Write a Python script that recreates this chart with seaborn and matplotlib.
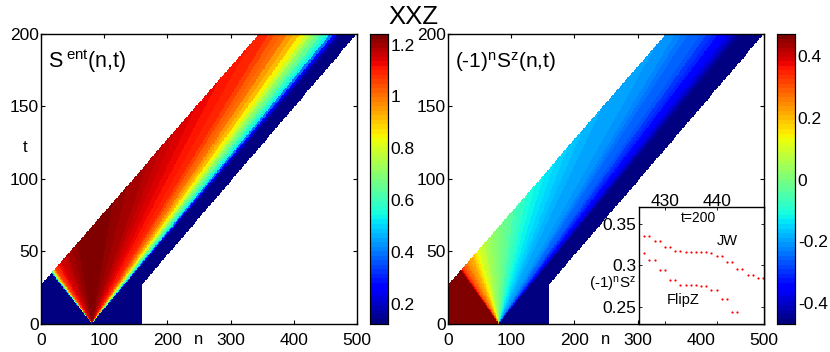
import numpy as np
import matplotlib
matplotlib.use("Agg")
import matplotlib.pyplot as plt
import seaborn as sns

FIG_W, FIG_H = 830, 352

# ray speed (n-80)/t -> value, one value per colour band
ray_edges = [-1.86, -1.82, -1.78, -1.74, -1.70, -1.65, -1.60, -1.55, -1.50,
             -1.40, -1.30, -1.20, -1.10, -1.00, -0.90, -0.80, -0.70, -0.60, -0.50, -0.40, -0.30, -0.20, -0.10, 0.00,
             0.10, 0.20, 0.30, 0.40, 0.50, 0.60, 0.70, 0.80, 0.90, 1.00, 1.10, 1.20, 1.30, 1.40,
             1.45, 1.50, 1.55, 1.60, 1.65, 1.70, 1.74, 1.78, 1.82, 1.86, 1.89, 1.92, 1.95, 1.98]
sent_bands = [0.13, 0.28, 0.45, 0.62, 0.76, 0.88, 0.96, 1.01, 1.05,
              1.08, 1.10, 1.12, 1.14, 1.16, 1.17, 1.18, 1.19, 1.20, 1.21, 1.22, 1.23, 1.235, 1.24, 1.24,
              1.24, 1.24, 1.235, 1.23, 1.22, 1.21, 1.20, 1.19, 1.18, 1.165, 1.15, 1.13, 1.115, 1.09,
              1.06, 1.03, 1.00, 0.96, 0.91, 0.84, 0.77, 0.71, 0.65, 0.59, 0.53, 0.40, 0.27, 0.17, 0.13]
sz_bands = [0.47, 0.47, 0.47, 0.47, 0.47, 0.46, 0.44, 0.38, 0.35,
            0.32, 0.29, 0.27, 0.25, 0.23, 0.21, 0.19, 0.15, 0.12, 0.10, 0.08, 0.06, 0.04, 0.025, 0.01,
            0.00, -0.015, -0.035, -0.06, -0.085, -0.105, -0.125, -0.14, -0.155, -0.17, -0.18, -0.19, -0.20, -0.21,
            -0.225, -0.24, -0.25, -0.26, -0.275, -0.29, -0.31, -0.335, -0.36, -0.39, -0.42, -0.445, -0.46, -0.465, -0.465]

# computed window in the (n,t) plane
window_t = [27, 200]
window_left = [0, 345]
window_right = [160, 500]

n_ticks = [0, 100, 200, 300, 400, 500]
t_ticks = [0, 50, 100, 150, 200]
sent_ticks = [0.2, 0.4, 0.6, 0.8, 1.0, 1.2]
sent_tick_labels = ["0.2", "0.4", "0.6", "0.8", "1", "1.2"]
sz_ticks = [-0.4, -0.2, 0.0, 0.2, 0.4]
sz_tick_labels = ["-0.4", "-0.2", "0", "0.2", "0.4"]

# inset, t=200
jw_n = list(range(426, 450))
jw_sz = [0.3347, 0.3347, 0.3290, 0.3290, 0.3220, 0.3220, 0.3177, 0.3177, 0.3165, 0.3165, 0.3165, 0.3165,
         0.3157, 0.3153, 0.3117, 0.3115, 0.3040, 0.3040, 0.2956, 0.2956, 0.2887, 0.2887, 0.2847, 0.2847]
flip_n = list(range(426, 445))
flip_sz = [0.3149, 0.3065, 0.3065, 0.2940, 0.2940, 0.2827, 0.2827, 0.2766, 0.2766, 0.2762,
           0.2758, 0.2750, 0.2750, 0.2702, 0.2702, 0.2589, 0.2589, 0.2431, 0.2431]


def px_axes(fig, left, top, right, bottom):
    return fig.add_axes([left / FIG_W, 1 - bottom / FIG_H, (right - left) / FIG_W, (bottom - top) / FIG_H])


def build_field(bands):
    nn, tt = np.meshgrid(np.arange(500) + 0.5, np.arange(200) + 0.5)
    field = np.array(bands)[np.digitize((nn - 80) / tt, ray_edges)]
    lo = np.interp(tt, window_t, window_left)
    hi = np.interp(tt, window_t, window_right)
    mask = (nn < lo) | (nn > hi)
    return field, mask


def draw_panel(fig, x0, x1, cx0, cx1, bands, vmin, vmax, ticks, tick_labels):
    ax = px_axes(fig, x0, 34, x1, 323.5)
    cax = px_axes(fig, cx0, 34, cx1, 323.5)
    field, mask = build_field(bands)
    sns.heatmap(field, mask=mask, cmap=plt.get_cmap("jet", 64), vmin=vmin, vmax=vmax,
                ax=ax, cbar_ax=cax, xticklabels=False, yticklabels=False)
    ax.invert_yaxis()
    ax.set_xticks(n_ticks)
    ax.set_xticklabels(n_ticks, rotation=0)
    ax.set_yticks(t_ticks)
    ax.set_yticklabels(t_ticks, rotation=0)
    ax.tick_params(direction="in", length=3, width=0.8, top=True, right=True, bottom=True, left=True,
                   labelsize=12.5)
    ax.tick_params(axis="x", pad=6.5)
    ax.tick_params(axis="y", pad=2)
    for spine in ax.spines.values():
        spine.set_visible(True)
        spine.set_linewidth(1.0)
        spine.set_color("black")

    cax.set_yticks(ticks)
    cax.set_yticklabels(tick_labels)
    cax.tick_params(direction="in", length=3, width=0.8, left=True, right=True, labelsize=12.5, pad=2)
    for spine in cax.spines.values():
        spine.set_visible(True)
        spine.set_linewidth(0.8)
        spine.set_color("black")
    return ax


sns.set_theme(style="white")
plt.rcParams["font.family"] = ["Liberation Sans", "DejaVu Sans"]
plt.rcParams["mathtext.fontset"] = "custom"
plt.rcParams["mathtext.rm"] = "Liberation Sans"
plt.rcParams["mathtext.it"] = "Liberation Sans"
plt.rcParams["xtick.color"] = "black"
plt.rcParams["ytick.color"] = "black"
plt.rcParams["text.color"] = "black"

fig = plt.figure(figsize=(FIG_W / 100, FIG_H / 100), dpi=100)

left = draw_panel(fig, 41.3, 356.7, 370, 388, sent_bands, 0.123, 1.241, sent_ticks, sent_tick_labels)
right = draw_panel(fig, 448.3, 763.7, 776.7, 795, sz_bands, -0.465, 0.47, sz_ticks, sz_tick_labels)

fig.text(413 / FIG_W, 1 - 24 / FIG_H, "XXZ", fontsize=18.5, ha="center", va="baseline")
fig.text(25.5 / FIG_W, 1 - 148 / FIG_H, "t", fontsize=12, ha="center", va="center")
fig.text(199 / FIG_W, 1 - 340 / FIG_H, "n", fontsize=12, ha="center", va="center")
fig.text(606 / FIG_W, 1 - 340 / FIG_H, "n", fontsize=12, ha="center", va="center")
fig.text(48 / FIG_W, 1 - 68 / FIG_H, r"S$^{\;\mathrm{ent}}$(n,t)", fontsize=15.5, ha="left", va="baseline")
fig.text(455 / FIG_W, 1 - 68 / FIG_H, r"(-1)$^{\mathrm{n}}$S$^{\mathrm{z}}$(n,t)", fontsize=15, ha="left", va="baseline")

inset = px_axes(fig, 639, 207.3, 763.7, 323.5)
inset.set_facecolor("white")
sns.scatterplot(x=jw_n, y=jw_sz, ax=inset, color="red", s=2.5, marker="o", linewidth=0, clip_on=False)
sns.scatterplot(x=flip_n, y=flip_sz, ax=inset, color="red", s=2.5, marker="o", linewidth=0, clip_on=False)
inset.set_xlim(425, 449.1)
inset.set_ylim(0.2295, 0.37)
inset.set_xticks([430, 440])
inset.set_yticks([0.25, 0.3, 0.35])
inset.set_yticklabels(["0.25", "0.3", "0.35"])
inset.xaxis.tick_top()
inset.tick_params(direction="in", length=2, width=0.6, top=True, left=True, right=True, bottom=True,
                  labelsize=12.5)
inset.tick_params(axis="x", pad=-1)
inset.tick_params(axis="y", pad=2)
for spine in inset.spines.values():
    spine.set_visible(True)
    spine.set_linewidth(1.0)
    spine.set_color("black")
inset.text(436.5, 0.357, "t=200", fontsize=10, ha="center", va="center")
inset.text(442.0, 0.329, "JW", fontsize=10.5, ha="center", va="center")
inset.text(433.5, 0.2575, "FlipZ", fontsize=10.5, ha="center", va="center")
fig.text(613 / FIG_W, 1 - 285 / FIG_H, r"(-1)$^{\mathrm{n}}$S$^{\mathrm{z}}$", fontsize=11, ha="center", va="center")

fig.savefig("out.png", dpi=100)
plt.close(fig)
